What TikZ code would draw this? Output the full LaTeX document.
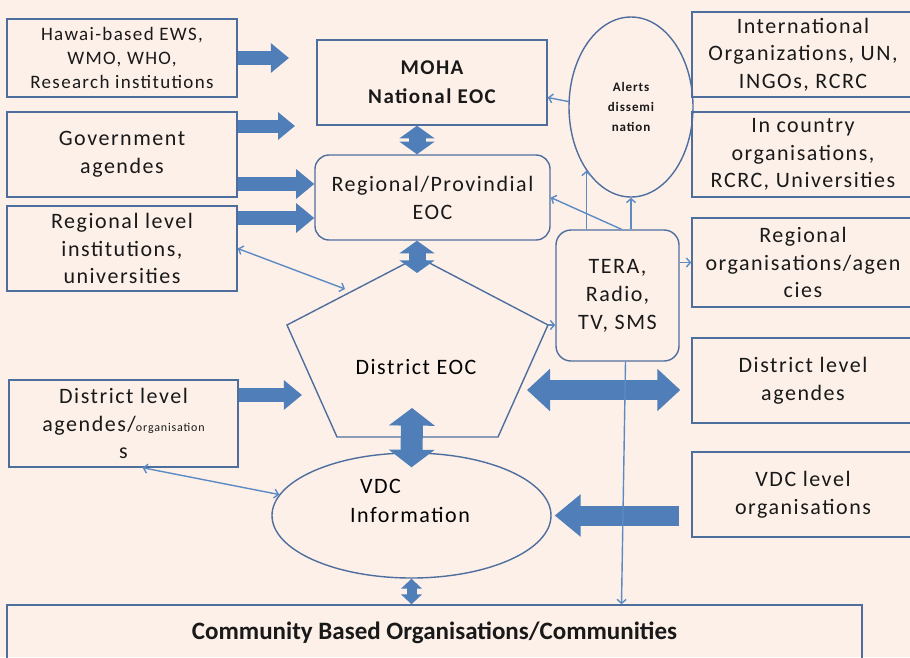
\documentclass[tikz,border=0pt]{standalone}
\usepackage{fontspec}
\setmainfont{Carlito}[LetterSpace=7]
\newfontfamily\cbofont{Carlito}
\usepackage{xcolor}
\definecolor{ewsbg}{HTML}{FDF0E9}
\definecolor{ewsline}{HTML}{4E6E9E}
\definecolor{ewsarrow}{HTML}{4F7EB8}
\definecolor{ewslink}{HTML}{5C8BC4}
\usetikzlibrary{arrows.meta,shapes.geometric}

\begin{document}
\begin{tikzpicture}[x=1pt,y=-1pt,
  orgbox/.style={draw=ewsline,line width=1.4pt,rectangle,align=center,inner sep=0pt,
    font=\fontsize{22}{27.5}\selectfont,text=black!90},
  eocbox/.style={orgbox,rounded corners=14pt},
  bubble/.style={orgbox,ellipse},
  eocline/.style={draw=ewsline,line width=1.4pt,line join=miter},
  fatarrow/.style={draw=ewsarrow,line width=#1,-{Triangle[length=0pt 1.3,width=0pt 2.05]}},
  fatboth/.style 2 args={draw=ewsarrow,line width=#1,
    {Triangle[length=0pt #2,width=0pt 2.05]}-{Triangle[length=0pt #2,width=0pt 2.05]}},
  linkarrow/.style={draw=ewslink,line width=1.4pt,-{Straight Barb[length=4pt,width=9pt]}},
  linkboth/.style={linkarrow,{Straight Barb[length=4pt,width=9pt]}-{Straight Barb[length=4pt,width=9pt]}}]
\useasboundingbox (0,0) rectangle (910,657);
\fill[ewsbg] (0,0) rectangle (910,657);

% left column
\node[orgbox,minimum width=230,minimum height=78,font=\fontsize{19}{24}\selectfont] (hawai) at (122,58)
  {Hawai-based EWS,\\WMO, WHO,\\Research institutions};
\node[orgbox,minimum width=230,minimum height=85,font=\fontsize{22}{28}\selectfont] (gov) at (122,154.5)
  {Government\\agendes};
\node[orgbox,minimum width=230,minimum height=85] (reginst) at (122,248.5)
  {Regional level\\institutions,\\universities};
\node[orgbox,minimum width=229,minimum height=87] (distL) at (123.5,423.5)
  {District level\\agendes/{\fontsize{12}{13}\selectfont organisation}\\s};

% centre column
\node[orgbox,minimum width=230,minimum height=85,font=\fontsize{21}{29}\bfseries] (moha) at (432,82.5)
  {MOHA\\National EOC};
\node[eocbox,minimum width=235,minimum height=85,font=\fontsize{22}{28}\selectfont] (regional) at (432.5,197.5)
  {Regional/Provindial\\EOC};
\coordinate (ptop) at (418,257);
\coordinate (pright) at (548,325);
\coordinate (pbr) at (498,437);
\coordinate (pbl) at (337,437);
\coordinate (pleft) at (287,325);
\draw[eocline] (ptop) -- (pright) -- (pbr) -- (pbl) -- (pleft) -- cycle;
\node[font=\fontsize{22}{27}\selectfont] (district) at (416,367) {District EOC};
\node[bubble,minimum width=279,minimum height=125] (vdc) at (411.5,515.5) {};
\node[align=left,font=\fontsize{22}{29}\selectfont] (vdctext) at (410,501) {\hspace{10pt}VDC\\Information};
\node[orgbox,minimum width=855,minimum height=55,font=\cbofont\fontsize{25}{30}\bfseries] (community) at (434.5,632.5)
  {Community Based Organisations/Communities};

% alerts and media
\node[bubble,minimum width=124,minimum height=180,font=\fontsize{13}{20}\bfseries] (alerts) at (631,107)
  {Alerts\\dissemi\\nation};
\node[eocbox,rounded corners=15pt,minimum width=123,minimum height=131,font=\fontsize{22}{28}\selectfont] (tera) at (617.5,295.5)
  {TERA,\\Radio,\\TV, SMS};

% right column
\node[orgbox,minimum width=222,minimum height=85] (intl) at (803,54.5)
  {International\\Organizations, UN,\\INGOs, RCRC};
\node[orgbox,minimum width=222,minimum height=85] (incountry) at (803,154.5)
  {In country\\organisations,\\RCRC, Universities};
\node[orgbox,minimum width=222,minimum height=89] (regorg) at (803,262.5)
  {Regional\\organisations/agen\\cies};
\node[orgbox,minimum width=222,minimum height=85,font=\fontsize{22}{28}\selectfont] (distR) at (803,380.5)
  {District level\\agendes};
\node[orgbox,minimum width=222,minimum height=85,font=\fontsize{22}{28}\selectfont] (vdcorg) at (803,494.5)
  {VDC level\\organisations};

% block arrows
\coordinate (mohatip) at (289,58);
\coordinate (govtip) at (295,126);
\coordinate (govin) at (0,184);
\coordinate (reginstin) at (0,218);
\coordinate (dtop) at (417,273);
\coordinate (dbot) at (412,408);
\coordinate (dleft) at (527,390);
\coordinate (dltip) at (302,395);
\draw[fatarrow=14pt] (hawai.east) -- (mohatip);
\draw[fatarrow=13pt] (gov.east |- govtip) -- (govtip);
\draw[fatarrow=14pt] (gov.east |- govin) -- (regional.west |- govin);
\draw[fatarrow=14pt] (reginst.east |- reginstin) -- (regional.west |- reginstin);
\draw[fatboth={17pt}{0.75}] (moha.south -| dtop) -- (regional.north -| dtop);
\draw[fatboth={17pt}{0.75}] (regional.south -| dtop) -- (dtop);
\draw[fatboth={22pt}{0.8}] (dbot) -- ([yshift=-15pt]vdc.north);
\draw[fatboth={10pt}{1.0}] (vdc.south) -- (vdc.south |- community.north);
\draw[fatboth={20pt}{1.15},shorten >=11pt] (dleft) -- (dleft -| distR.west);
\draw[fatarrow=20pt,shorten <=12pt,shorten >=3pt] (vdc.east -| vdcorg.west) -- (vdc.east);
\draw[fatarrow=14pt] (dltip -| distL.east) -- (dltip);

% thin links
\coordinate (dlink) at (345,289);
\draw[linkboth] (reginst.east) -- (dlink);
\draw[linkboth] ([xshift=19pt]distL.south) -- (vdc.171);
\draw[linkarrow] (alerts.175) -- ([yshift=-15pt]moha.east);
\draw[linkarrow] ([xshift=4pt]tera.north) -- (regional.east);
\draw[linkarrow] (tera.north -| alerts.235) -- (alerts.235);
\draw[linkarrow] (tera.north -| alerts.south) -- (alerts.south);
\draw[linkarrow] (tera.east |- regorg.west) -- (regorg.west);
\draw[linkarrow] (pright) -- (pright -| tera.west);
\draw[linkarrow] ([xshift=8pt]tera.south) -- ([xshift=4pt]tera.south |- community.north);
\end{tikzpicture}
\end{document}
